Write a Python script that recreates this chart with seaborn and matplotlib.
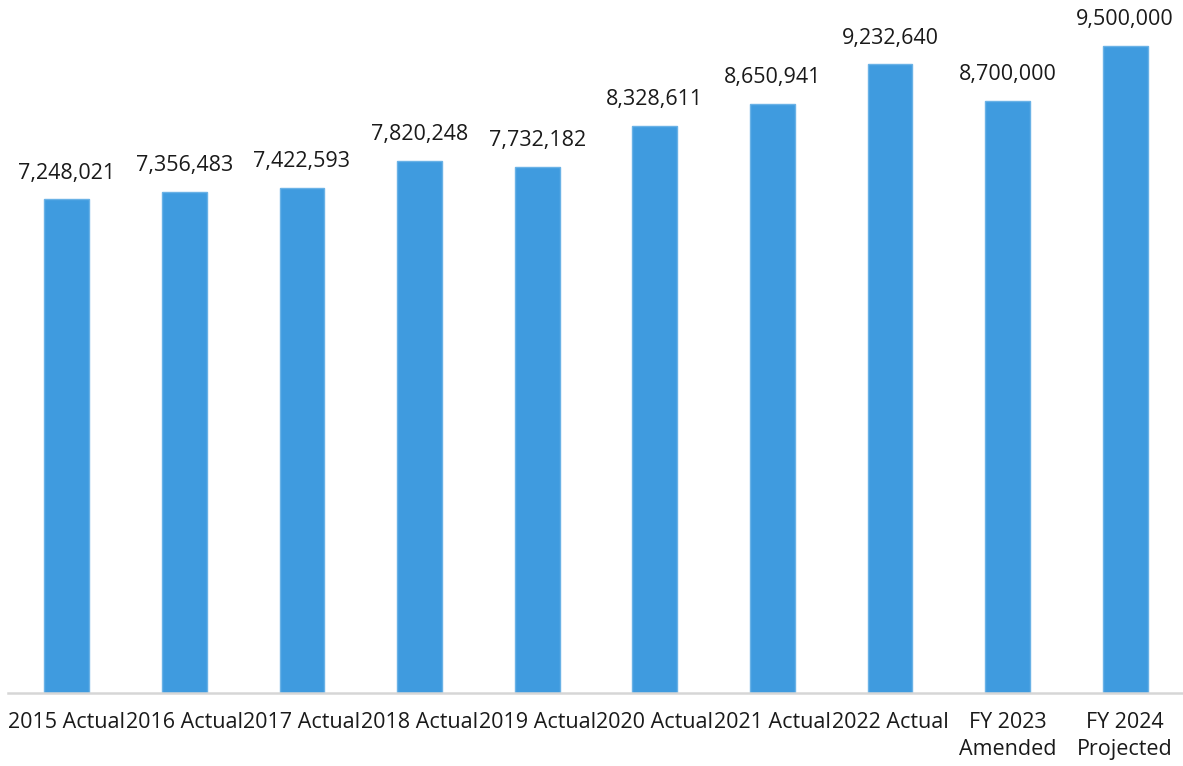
import matplotlib
matplotlib.use("Agg")
import matplotlib.pyplot as plt
import seaborn as sns
import pandas as pd

categories = [
    "2015 Actual", "2016 Actual", "2017 Actual", "2018 Actual", "2019 Actual",
    "2020 Actual", "2021 Actual", "2022 Actual", "FY 2023\nAmended", "FY 2024\nProjected",
]
values = [7248021, 7356483, 7422593, 7820248, 7732182,
          8328611, 8650941, 9232640, 8700000, 9500000]

sns.set_theme(style="white")
plt.rcParams["font.family"] = ["Open Sans", "DejaVu Sans"]

df = pd.DataFrame({"category": categories, "value": values})

fig = plt.figure(figsize=(11.83, 7.66), dpi=100)
ax = fig.add_axes([8 / 1183, 1 - 692.5 / 766, 1176 / 1183, 692.5 / 766])

sns.barplot(data=df, x="category", y="value", ax=ax, width=0.38,
            color="#3f9bdf", edgecolor="#6ab2e6", linewidth=1.0, saturation=1)

ax.set_xlim(-0.5, 9.5)
ax.set_ylim(0, 10.18e6)
ax.set_xlabel("")
ax.set_ylabel("")
ax.set_yticks([])

for i, v in enumerate(values):
    ax.annotate(f"{v:,}", xy=(i, v), xytext=(0, 15), textcoords="offset points",
                ha="center", va="baseline", fontsize=15.5, color="#1a1a1a")

ax.tick_params(axis="x", length=0, pad=14, labelsize=15.5, labelcolor="#1a1a1a")
for lbl in ax.get_xticklabels():
    lbl.set_linespacing(1.35)

for side in ["top", "left", "right"]:
    ax.spines[side].set_visible(False)
ax.spines["bottom"].set_color("#d6d6d6")
ax.spines["bottom"].set_linewidth(1.8)

fig.savefig("out.png", dpi=100, facecolor="white")
